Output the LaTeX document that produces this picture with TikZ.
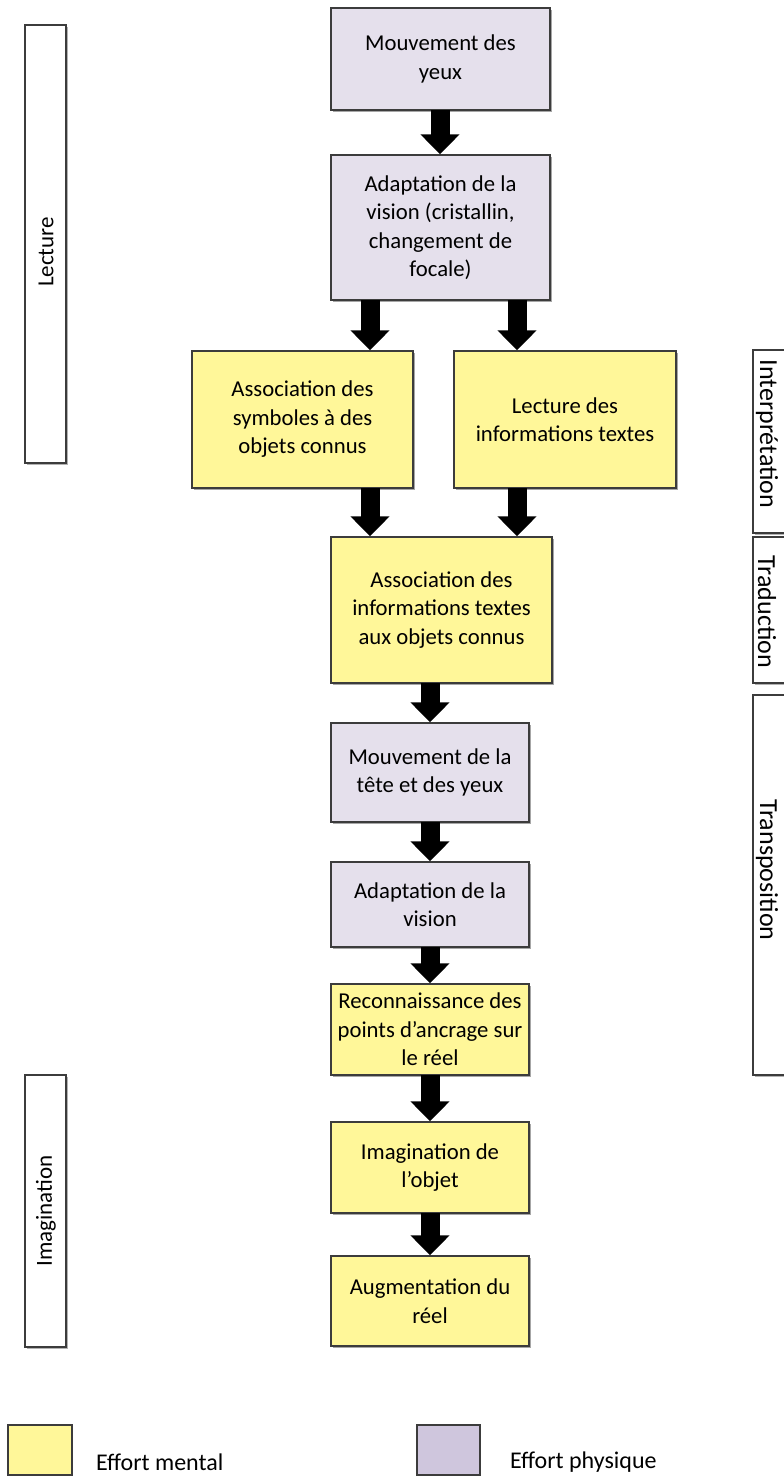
\documentclass[tikz,border=0pt]{standalone}
\usepackage{fontspec}
\setmainfont{Carlito}
\usetikzlibrary{arrows.meta,shadows}
\definecolor{ment}{RGB}{255,247,153}
\definecolor{phys}{RGB}{229,224,236}
\definecolor{physleg}{RGB}{207,198,221}
\definecolor{edge}{RGB}{60,60,60}
\tikzset{
  box/.style={draw=edge, line width=1.4pt, align=center, inner sep=0pt,
    font=\fontsize{22.7}{28.5}\selectfont,
    drop shadow={shadow xshift=2pt, shadow yshift=-2pt, opacity=0.35, fill=black}},
  mbox/.style={box, fill=ment},
  pbox/.style={box, fill=phys},
  sidebox/.style={draw=edge, line width=1.4pt, fill=white, inner sep=0pt,
    drop shadow={shadow xshift=1.5pt, shadow yshift=-1.5pt, opacity=0.3, fill=black}},
  sidetext/.style={font=\fontsize{23}{27}\selectfont, inner sep=0pt},
  rsidetext/.style={font=\fontsize{26}{30}\selectfont, inner sep=0pt},
  blk/.style={line width=19pt, black, -{Triangle[width=38pt,length=20pt]}, shorten <=-0.5pt},
  legtext/.style={font=\fontsize{24}{28}\selectfont, anchor=west, inner sep=0pt}
}
\begin{document}
\begin{tikzpicture}[x=1pt,y=-1pt]
\useasboundingbox (0,0) rectangle (784,1476);

% side boxes
\node[sidebox, minimum width=41pt, minimum height=438pt] (lec) at (45.5,244) {};
\node[sidetext, rotate=90] (lect) at (46,252) {Lecture};
\node[sidebox, minimum width=41pt, minimum height=272pt] (ima) at (45.5,1211) {};
\node[sidetext, rotate=90] (imat) at (46,1211) {Imagination};
\node[sidebox, minimum width=42pt, minimum height=183pt] (int) at (774,441.5) {};
\node[rsidetext, rotate=-90] (intt) at (767,434) {Interprétation};
\node[sidebox, minimum width=42pt, minimum height=146pt] (tra) at (774,610) {};
\node[rsidetext, rotate=-90] (trat) at (767,612) {Traduction};
\node[sidebox, minimum width=42pt, minimum height=380pt] (trp) at (774,885) {};
\node[rsidetext, rotate=-90] (trpt) at (767,870) {Transposition};

% main boxes
\node[pbox, minimum width=219pt, minimum height=102pt] (b1) at (440.5,59) {Mouvement des\\yeux};
\node[pbox, minimum width=219pt, minimum height=145pt] (b2) at (440.5,227.5) {Adaptation de la\\vision (cristallin,\\changement de\\focale)};
\node[mbox, minimum width=221pt, minimum height=137pt] (b3) at (302.5,419.5) {Association des\\symboles à des\\objets connus};
\node[mbox, minimum width=222pt, minimum height=137pt] (b4) at (565,419.5) {Lecture des\\informations textes};
\node[mbox, minimum width=221pt, minimum height=146pt] (b5) at (441.5,610) {Association des\\informations textes\\aux objets connus};
\node[pbox, minimum width=198pt, minimum height=99pt] (b6) at (430,772.5) {Mouvement de la\\tête et des yeux};
\node[pbox, minimum width=198pt, minimum height=85pt] (b7) at (430,904.5) {Adaptation de la\\vision};
\node[mbox, minimum width=198pt, minimum height=91pt] (b8) at (430,1029.5) {Reconnaissance des\\points d’ancrage sur\\le réel};
\node[mbox, minimum width=198pt, minimum height=91pt] (b9) at (430,1167.5) {Imagination de\\l’objet};
\node[mbox, minimum width=198pt, minimum height=90pt] (b10) at (430,1301) {Augmentation du\\réel};

% arrows
\coordinate (x440) at (440,0);
\coordinate (x370) at (370,0);
\coordinate (x517) at (517,0);
\coordinate (x430) at (430,0);
\draw[blk] (b1.south -| x440) -- (b2.north -| x440);
\draw[blk] (b2.south -| x370) -- (b3.north -| x370);
\draw[blk] (b2.south -| x517) -- (b4.north -| x517);
\draw[blk] (b3.south -| x370) -- (b5.north -| x370);
\draw[blk] (b4.south -| x517) -- (b5.north -| x517);
\draw[blk] (b5.south -| x430) -- (b6.north -| x430);
\draw[blk] (b6.south -| x430) -- (b7.north -| x430);
\draw[blk] (b7.south -| x430) -- (b8.north -| x430);
\draw[blk] (b8.south -| x430) -- (b9.north -| x430);
\draw[blk] (b9.south -| x430) -- (b10.north -| x430);

% legend
\node[draw=edge, line width=1.4pt, fill=ment, minimum width=64pt, minimum height=50pt, inner sep=0pt] (lm) at (40,1450) {};
\node[legtext] (lmt) at (96,1462) {Effort mental};
\node[draw=edge, line width=1.4pt, fill=physleg, minimum width=63pt, minimum height=50pt, inner sep=0pt] (lp) at (448.5,1450) {};
\node[legtext] (lpt) at (510,1462) {Effort physique};
\end{tikzpicture}
\end{document}
